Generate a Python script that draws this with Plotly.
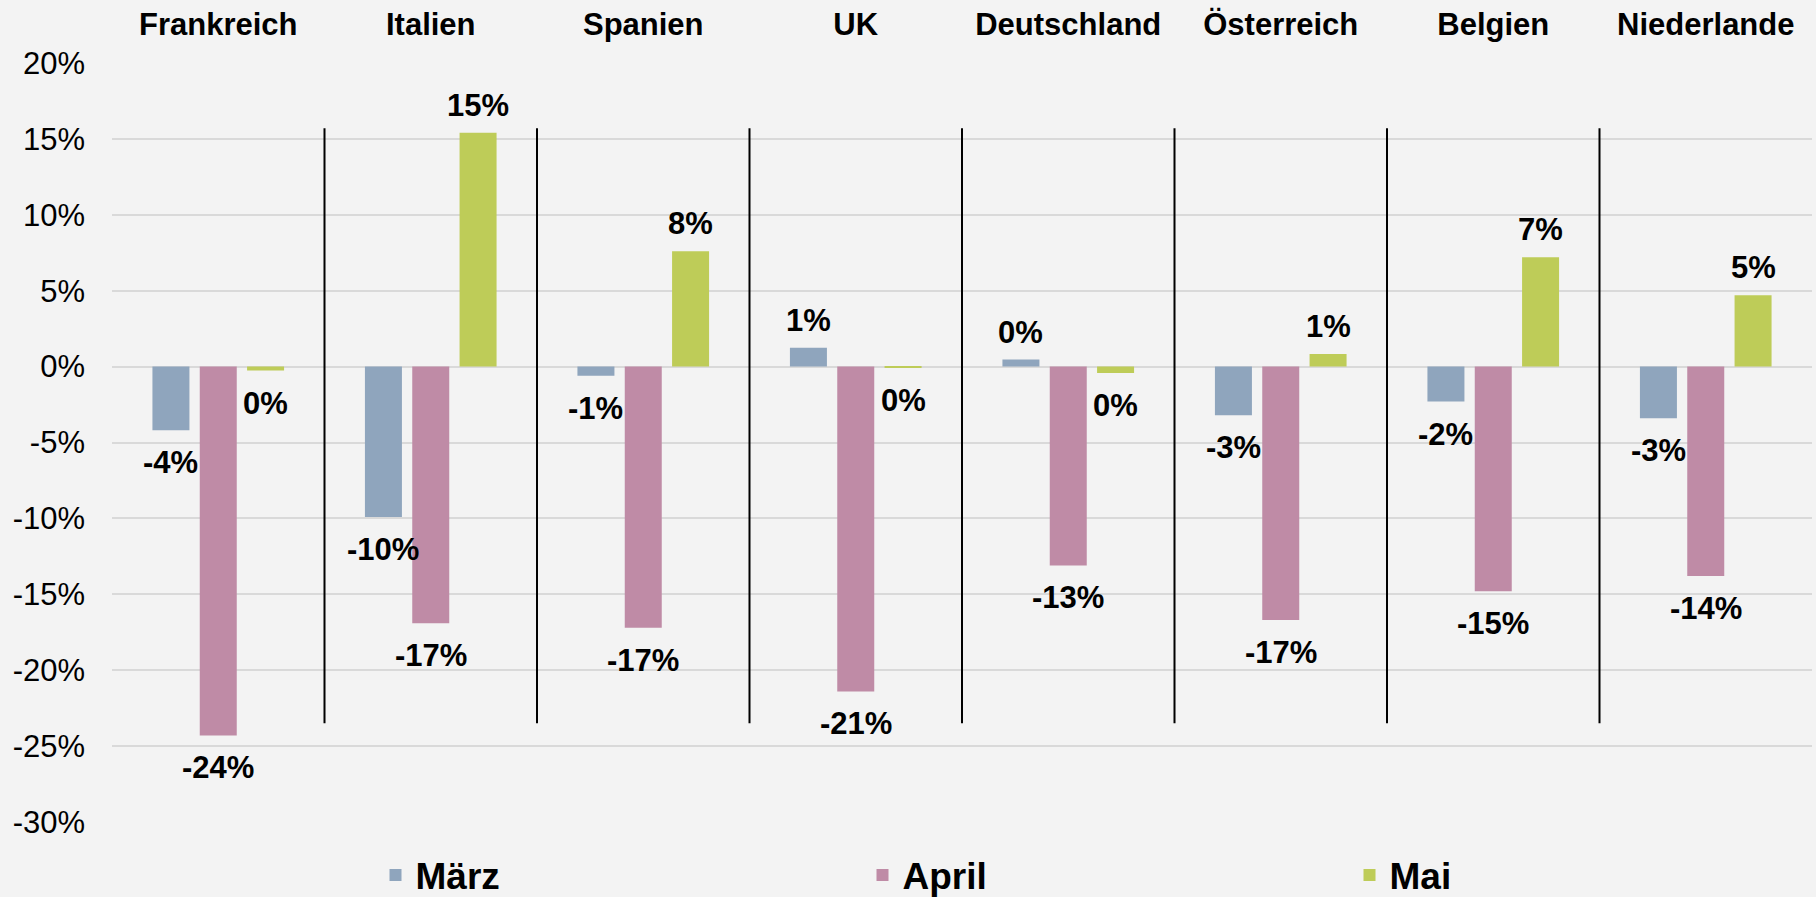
import plotly.graph_objects as go

countries = ["Frankreich", "Italien", "Spanien", "UK", "Deutschland", "Österreich", "Belgien", "Niederlande"]
series_names = ["März", "April", "Mai"]
maerz = [-4.2, -9.9, -0.6, 1.25, 0.46, -3.2, -2.3, -3.4]
april = [-24.3, -16.9, -17.2, -21.4, -13.1, -16.7, -14.8, -13.8]
mai = [-0.26, 15.4, 7.6, -0.1, -0.42, 0.83, 7.2, 4.7]
y_ticks = [20, 15, 10, 5, 0, -5, -10, -15, -20, -25, -30]

colors = ["#8FA5BD", "#BF8BA6", "#BECC58"]
FONT = "Liberation Sans, Arial, sans-serif"
BG = "#F3F3F3"

BARGAP = 0.332
GROUPGAP = 0.218
SEP_TOP, SEP_BOTTOM = 15.7, -23.5

fig = go.Figure()
all_series = [maerz, april, mai]
for name, vals, col in zip(series_names, all_series, colors):
    fig.add_trace(go.Bar(
        name=name, x=countries, y=vals,
        marker=dict(color=col, line=dict(width=0)),
    ))

def fmt(v):
    r = int(round(v))
    return f"{r}%"

slot = (1 - BARGAP) / len(all_series)
for si, vals in enumerate(all_series):
    off = (si - 1) * slot
    for ci, v in enumerate(vals):
        neg = v < 0
        fig.add_annotation(
            x=ci + off, y=v, xref="x", yref="y",
            text=f"<b>{fmt(v)}</b>", showarrow=False,
            yanchor="top" if neg else "bottom",
            yshift=-13 if neg else 8,
            font=dict(family=FONT, size=31, color="#000000"),
        )

for i in range(len(countries) - 1):
    fig.add_shape(type="line", xref="x", yref="y",
                  x0=i + 0.5, x1=i + 0.5, y0=SEP_BOTTOM, y1=SEP_TOP,
                  line=dict(color="#000000", width=2))

fig.update_layout(
    width=1816, height=897,
    paper_bgcolor=BG, plot_bgcolor=BG,
    barmode="group", bargap=BARGAP, bargroupgap=GROUPGAP,
    margin=dict(l=112, r=4, t=63, b=75, autoexpand=False),
    font=dict(family=FONT, color="#000000"),
    legend=dict(
        orientation="h", x=0.155, xanchor="left", y=-0.0705, yanchor="middle",
        entrywidth=442, entrywidthmode="pixels",
        font=dict(family=FONT, size=37, color="#000000", weight="bold"),
        bgcolor="rgba(0,0,0,0)", traceorder="normal",
    ),
    xaxis=dict(
        type="category", side="top", showgrid=False, zeroline=False, showline=False,
        ticks="", tickfont=dict(family=FONT, size=31, color="#000000", weight="bold"),
        ticklabelstandoff=21,
    ),
    yaxis=dict(
        range=[-30, 20], tickvals=y_ticks, ticktext=[f"{t}%" for t in y_ticks],
        showgrid=True, gridcolor="#D9D9D9", gridwidth=2, zeroline=False, showline=False,
        ticks="", tickfont=dict(family=FONT, size=31, color="#000000"),
        ticklabelstandoff=26,
    ),
)

fig.write_html(
    "out.html",
    config={"displayModeBar": False},
    post_script="document.body.style.margin='0';document.body.style.background='#F3F3F3';",
)
